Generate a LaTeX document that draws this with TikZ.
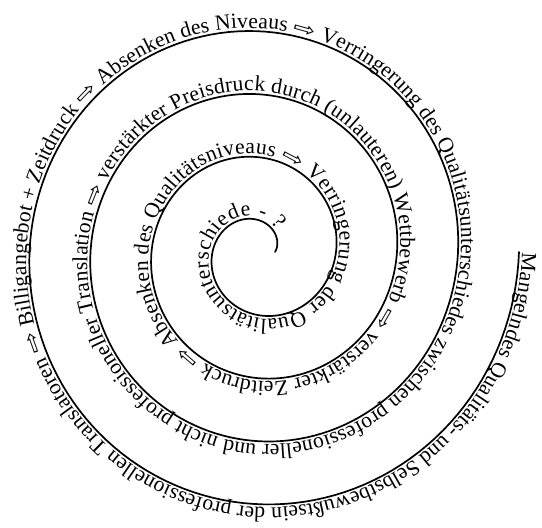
\documentclass[tikz,border=0pt]{standalone}
\usepackage{fontspec}
\setmainfont{Liberation Serif}
\newfontfamily\arrowfont[FakeStretch=1.4]{DejaVu Sans}
\usepackage{tikz}
\usetikzlibrary{decorations.text}
\newcommand\spiralfont{\fontsize{21.6}{26}\selectfont\rmfamily}
\newcommand\pointerfont{\fontsize{19}{22}\selectfont\arrowfont}
\tikzset{spiral line/.style={line width=1.7pt, line cap=round}}

\begin{document}
\begin{tikzpicture}[x=1pt,y=1pt]

\useasboundingbox (0,0) rectangle (542,528);

\draw[spiral line, postaction={decorate, decoration={text along path, raise=3pt,
  text={|\spiralfont|Mangelndes Qualitäts- und Selbstbewußtsein der professionellen Translatoren |\pointerfont|⇨|\spiralfont| Billigangebot + Zeitdruck |\pointerfont|⇨|\spiralfont| Absenken des Niveaus |\pointerfont|⇨|\spiralfont| Verringerung des Qualitätsunterschiedes zwischen professioneller und nicht professioneller Translation |\pointerfont|⇨|\spiralfont| verstärkter Preisdruck durch (unlauteren) Wettbewerb |\pointerfont|⇨|\spiralfont| verstärkter Zeitdruck |\pointerfont|⇨|\spiralfont| Absenken des Qualitätsniveaus |\pointerfont|⇨|\spiralfont| Verringerung der Qualitätsunterschiede - ?}}}]
  plot[domain=0:1440, samples=600, variable=\t]
  ({259+(16+0.169444*(1440-\t))*cos(1440-\t)}, {276+(16+0.175*(1440-\t))*sin(1440-\t)});

\end{tikzpicture}
\end{document}
